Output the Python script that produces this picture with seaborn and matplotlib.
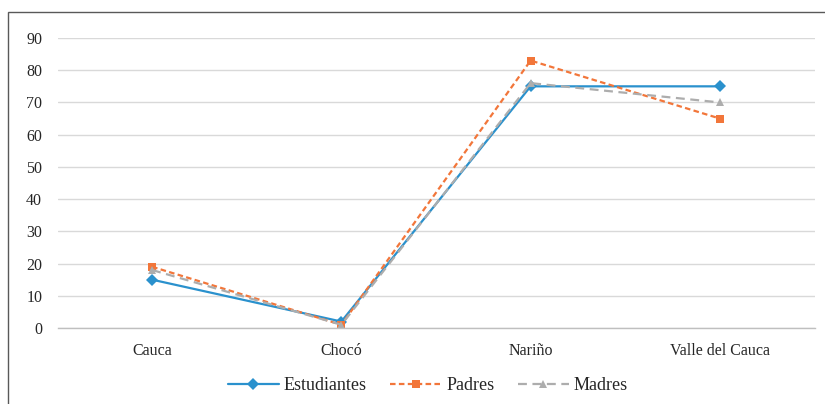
import matplotlib
matplotlib.use("Agg")
import matplotlib.pyplot as plt
from matplotlib.patches import Rectangle
import seaborn as sns
import pandas as pd

categories = ["Cauca", "Chocó", "Nariño", "Valle del Cauca"]
estudiantes = [15, 2, 75, 75]
padres = [19, 1, 83, 65]
madres = [18, 1, 76, 70]
series_names = ["Estudiantes", "Padres", "Madres"]
y_ticks = [0, 10, 20, 30, 40, 50, 60, 70, 80, 90]

rows = []
for name, vals in zip(series_names, [estudiantes, padres, madres]):
    for i, (cat, v) in enumerate(zip(categories, vals)):
        rows.append({"pos": i, "Departamento": cat, "valor": v, "serie": name})
df = pd.DataFrame(rows)

sns.set_theme(style="white")
plt.rcParams["font.family"] = ["Liberation Serif", "DejaVu Serif"]

fig = plt.figure(figsize=(8.25, 4.04), dpi=100)
ax = fig.add_axes([57.5 / 825, 1 - 328 / 404, 757 / 825, 290 / 404])

palette = {"Estudiantes": "#2A91CD", "Padres": "#F2763A", "Madres": "#ADADAD"}
markers = {"Estudiantes": "D", "Padres": "s", "Madres": "^"}
dashes = {"Estudiantes": "", "Padres": (2.5, 1.5), "Madres": (4, 2.5)}

sns.lineplot(data=df, x="pos", y="valor", hue="serie", style="serie",
             palette=palette, markers=markers, dashes=dashes,
             markersize=6, markeredgewidth=0, linewidth=1.6,
             hue_order=series_names, style_order=series_names,
             ax=ax, legend=True)

ax.set_xlim(-0.5, 3.5)
ax.set_ylim(0, 90)
ax.set_yticks(y_ticks)
ax.set_xticks(range(len(categories)))
ax.set_xticklabels(categories)
ax.set_xlabel("")
ax.set_ylabel("")
ax.grid(axis="y", color="#D9D9D9", linewidth=1)
ax.set_axisbelow(True)
for s in ["top", "right", "left"]:
    ax.spines[s].set_visible(False)
ax.spines["bottom"].set_color("#BFBFBF")
ax.spines["bottom"].set_linewidth(1)
ax.tick_params(axis="both", length=0, labelsize=11.5, colors="#262626")
ax.tick_params(axis="y", pad=11)
ax.tick_params(axis="x", pad=11)

handles, labels = ax.get_legend_handles_labels()
leg = ax.legend(handles, labels, loc="center", ncol=3, frameon=False,
                fontsize=13, handlelength=2.8, columnspacing=1.3,
                handletextpad=0.3)
leg.set_bbox_to_anchor((428 / 825, 1 - 386 / 404), transform=fig.transFigure)
for t in leg.get_texts():
    t.set_color("#262626")

fig.patches.append(Rectangle((8 / 825, -0.1), 1.2, 1 - 12 / 404 + 0.1,
                             transform=fig.transFigure, fill=False,
                             edgecolor="#595959", linewidth=1))

fig.savefig("out.png", dpi=100)
